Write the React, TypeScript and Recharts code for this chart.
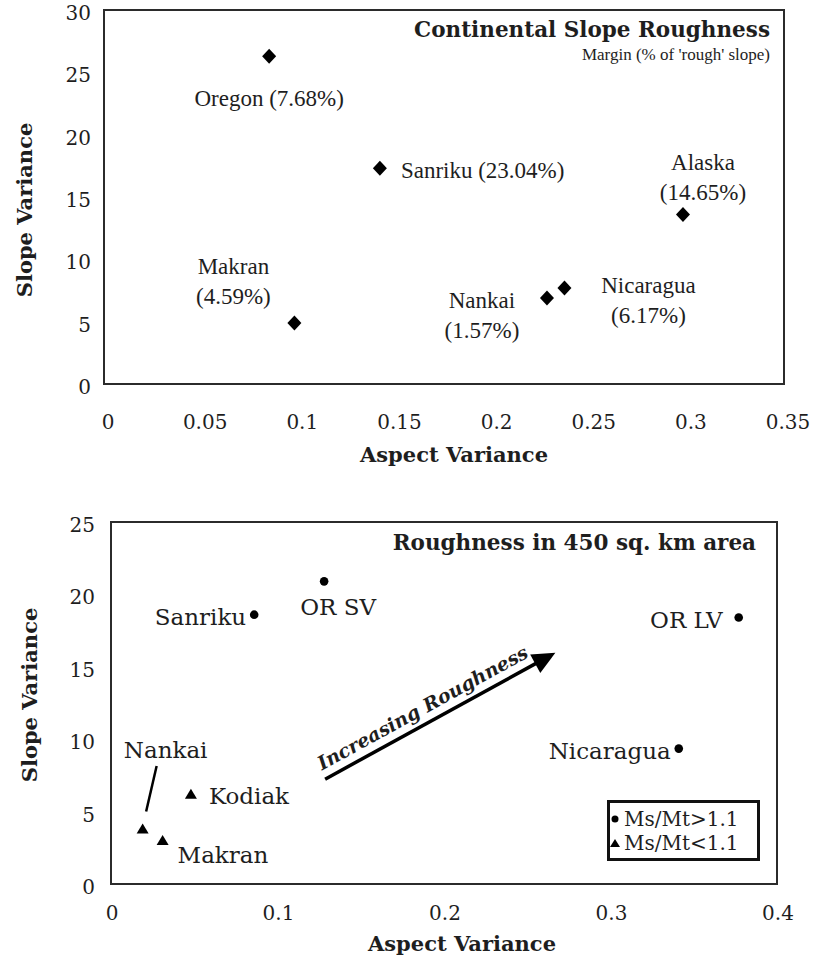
import React from 'react';
import { ScatterChart, Scatter, XAxis, YAxis, ReferenceArea, ReferenceLine, Legend } from 'recharts';

// ---------- Top chart data ----------
const topSites = ['Oregon', 'Sanriku', 'Alaska', 'Makran', 'Nankai', 'Nicaragua'];
const topAspect = [0.085, 0.142, 0.298, 0.098, 0.228, 0.237];
const topSlope = [26.3, 17.3, 13.6, 4.9, 6.9, 7.7];
const topMargin = [7.68, 23.04, 14.65, 4.59, 1.57, 6.17];
const topXTicks = [0, 0.05, 0.1, 0.15, 0.2, 0.25, 0.3, 0.35];
const topYTicks = [0, 5, 10, 15, 20, 25, 30];

// ---------- Bottom chart data ----------
const highSites = ['Sanriku', 'OR SV', 'OR LV', 'Nicaragua'];
const highAspect = [0.086, 0.128, 0.377, 0.341];
const highSlope = [18.6, 20.9, 18.4, 9.35];
const lowSites = ['Kodiak', 'Nankai', 'Makran'];
const lowAspect = [0.048, 0.019, 0.031];
const lowSlope = [6.2, 3.8, 3.0];
const botXTicks = [0, 0.1, 0.2, 0.3, 0.4];
const botYTicks = [0, 5, 10, 15, 20, 25];

const arrowFrom = [0.1286, 7.24];
const arrowTo = [0.2669, 15.97];

const topData = topSites.map((name, i) => ({ name, aspect: topAspect[i], slope: topSlope[i], margin: topMargin[i] }));
const highData = highSites.map((name, i) => ({ name, aspect: highAspect[i], slope: highSlope[i] }));
const lowData = lowSites.map((name, i) => ({ name, aspect: lowAspect[i], slope: lowSlope[i] }));

// ---------- label layout (pixel offsets from marks) ----------
const topLabelLayout: Record<string, { dx: number; dy: number; anchor: string; split: boolean }> = {
  Oregon: { dx: 0, dy: 42, anchor: 'middle', split: false },
  Sanriku: { dx: 21, dy: 2, anchor: 'start', split: false },
  Alaska: { dx: 20, dy: -52, anchor: 'middle', split: true },
  Makran: { dx: -61, dy: -56, anchor: 'middle', split: true },
  Nankai: { dx: -65, dy: 3, anchor: 'middle', split: true },
  Nicaragua: { dx: 84, dy: -3, anchor: 'middle', split: true },
};

const botLabelLayout: Record<string, { dx: number; dy: number; anchor: string; leader?: number[] }> = {
  Sanriku: { dx: -8, dy: 2, anchor: 'end' },
  'OR SV': { dx: 14, dy: 26, anchor: 'middle' },
  'OR LV': { dx: -16, dy: 2, anchor: 'end' },
  Nicaragua: { dx: -8, dy: 2, anchor: 'end' },
  Kodiak: { dx: 18, dy: 2, anchor: 'start' },
  Nankai: { dx: 23, dy: -79, anchor: 'middle', leader: [14, -63, 3.5, -17.5] },
  Makran: { dx: 15, dy: 14, anchor: 'start' },
};

const SERIF = '"DejaVu Serif", serif';
const NARROW = '"Liberation Serif", serif';
const INK = '#1e1e1e';

const fmt = (v: number) => String(v);

const makeXTick = (offY: number, dx: number) => (props: any) => {
  const { x, y, payload } = props;
  return (
    <text x={x + dx} y={y + offY} textAnchor="middle" dominantBaseline="central" fontFamily={SERIF} fontSize={20} fill={INK}>
      {fmt(payload.value)}
    </text>
  );
};

const makeYTick = (gap: number, offY: number) => (props: any) => {
  const { x, y, payload } = props;
  return (
    <text x={x - gap} y={y + offY} textAnchor="end" dominantBaseline="central" fontFamily={SERIF} fontSize={20} fill={INK}>
      {fmt(payload.value)}
    </text>
  );
};

const diamondShape = (props: any) => {
  const { cx, cy } = props;
  const p = props.payload || props;
  const lay = topLabelLayout[p.name];
  const lines = lay.split ? [p.name, `(${p.margin}%)`] : [`${p.name} (${p.margin}%)`];
  return (
    <g>
      <polygon points={`${cx},${cy - 7.5} ${cx + 7},${cy} ${cx},${cy + 7.5} ${cx - 7},${cy}`} fill="#000" />
      {lines.map((t, i) => (
        <text key={i} x={cx + lay.dx} y={cy + lay.dy + i * 30} textAnchor={lay.anchor as any} dominantBaseline="central"
          fontFamily={NARROW} fontSize={23} fill={INK}>
          {t}
        </text>
      ))}
    </g>
  );
};

const botLabel = (cx: number, cy: number, name: string) => {
  const lay = botLabelLayout[name];
  return (
    <g>
      <text x={cx + lay.dx} y={cy + lay.dy} textAnchor={lay.anchor as any} dominantBaseline="central"
        fontFamily={SERIF} fontSize={23} fill={INK}>
        {name}
      </text>
      {lay.leader && (
        <line x1={cx + lay.leader[0]} y1={cy + lay.leader[1]} x2={cx + lay.leader[2]} y2={cy + lay.leader[3]} stroke="#000" strokeWidth={2.5} />
      )}
    </g>
  );
};

const dotShape = (props: any) => {
  const { cx, cy } = props;
  const p = props.payload || props;
  return (
    <g>
      <circle cx={cx} cy={cy} r={4.3} fill="#000" />
      {botLabel(cx, cy, p.name)}
    </g>
  );
};

const triShape = (props: any) => {
  const { cx, cy } = props;
  const p = props.payload || props;
  return (
    <g>
      <polygon points={`${cx},${cy - 5.5} ${cx + 6},${cy + 4.5} ${cx - 6},${cy + 4.5}`} fill="#000" />
      {botLabel(cx, cy, p.name)}
    </g>
  );
};

const arrowShape = (props: any) => {
  const { x1, y1, x2, y2 } = props;
  const L = Math.hypot(x2 - x1, y2 - y1);
  const ux = (x2 - x1) / L;
  const uy = (y2 - y1) / L;
  const nx = uy;
  const ny = -ux;
  const headL = 23;
  const headW = 10.5;
  const bx = x2 - ux * headL;
  const by = y2 - uy * headL;
  const sx = x2 - ux * (headL - 4);
  const sy = y2 - uy * (headL - 4);
  const midAlong = (L - headL) / 2;
  const tx = x1 + ux * midAlong + nx * 16;
  const ty = y1 + uy * midAlong + ny * 16;
  const ang = (Math.atan2(uy, ux) * 180) / Math.PI;
  return (
    <g>
      <line x1={x1} y1={y1} x2={sx} y2={sy} stroke="#000" strokeWidth={3.5} />
      <polygon points={`${x2},${y2} ${bx + nx * headW},${by + ny * headW} ${bx - nx * headW},${by - ny * headW}`} fill="#000" />
      <text x={tx} y={ty} transform={`rotate(${ang} ${tx} ${ty})`} textAnchor="middle" dominantBaseline="central"
        fontFamily={SERIF} fontWeight="bold" fontStyle="italic" fontSize={19} fill={INK}>
        Increasing Roughness
      </text>
    </g>
  );
};

const axisTitle = (x: number, y: number, text: string, vertical: boolean) => () => (
  <text x={x} y={y} textAnchor="middle" dominantBaseline="central" fontFamily={SERIF} fontWeight="bold" fontSize={21} fill={INK}
    transform={vertical ? `rotate(-90 ${x} ${y})` : undefined}>
    {text}
  </text>
);

const renderLegend = (props: any) => {
  const payload = [...(props.payload || [])].sort((a: any, b: any) => (a.type === 'triangle' ? 1 : 0) - (b.type === 'triangle' ? 1 : 0));
  return (
    <div style={{ border: '3px solid #111', boxSizing: 'border-box', width: 153, height: 61, paddingTop: 4, background: '#fff',
      fontFamily: SERIF, fontSize: 20, lineHeight: '24px', color: INK }}>
      {payload.map((e: any, i: number) => (
        <div key={i} style={{ display: 'flex', alignItems: 'center', whiteSpace: 'nowrap', height: 24 }}>
          <svg width={14} height={24} style={{ display: 'block' }}>
            {e.type === 'triangle'
              ? <polygon points="5,8 10,16 0,16" fill="#000" />
              : <circle cx={5} cy={12} r={3.5} fill="#000" />}
          </svg>
          <span>{e.value}</span>
        </div>
      ))}
    </div>
  );
};

export default function App() {
  return (
    <div style={{ position: 'absolute', left: 0, top: 0, width: 815, height: 957, background: '#fff' }}>
      <div style={{ position: 'absolute', left: 0, top: 0 }}>
        <ScatterChart width={815} height={480} margin={{ top: 10, right: 31, bottom: 0, left: 0 }}>
          <XAxis type="number" dataKey="aspect" domain={[0, 0.35]} ticks={topXTicks} interval={0} tickLine={false} axisLine={false}
            tickSize={0} tickMargin={0} height={96} tick={makeXTick(38, 4)} label={axisTitle(454, 454, 'Aspect Variance', false)} />
          <YAxis type="number" dataKey="slope" domain={[0, 30]} ticks={topYTicks} interval={0} tickLine={false} axisLine={false}
            tickSize={0} tickMargin={0} width={104} tick={makeYTick(13, 3)} label={axisTitle(24, 210, 'Slope Variance', true)} />
          <ReferenceArea x1={0} x2={0.35} y1={0} y2={30} fill="none" fillOpacity={0} stroke="#2b2b2b" strokeWidth={2} ifOverflow="visible" />
          <Scatter data={topData} shape={diamondShape} isAnimationActive={false} />
        </ScatterChart>
      </div>
      <div style={{ position: 'absolute', left: 0, top: 480 }}>
        <ScatterChart width={815} height={477} margin={{ top: 42, right: 38, bottom: 0, left: 0 }}>
          <XAxis type="number" dataKey="aspect" domain={[0, 0.4]} ticks={botXTicks} interval={0} tickLine={false} axisLine={false}
            tickSize={0} tickMargin={0} height={73} tick={makeXTick(29, 1)} label={axisTitle(462, 463, 'Aspect Variance', false)} />
          <YAxis type="number" dataKey="slope" domain={[0, 25]} ticks={botYTicks} interval={0} tickLine={false} axisLine={false}
            tickSize={0} tickMargin={0} width={111} tick={makeYTick(16, 3)} label={axisTitle(29, 215, 'Slope Variance', true)} />
          <ReferenceArea x1={0} x2={0.4} y1={0} y2={25} fill="none" fillOpacity={0} stroke="#2b2b2b" strokeWidth={2} ifOverflow="visible" />
          <ReferenceLine segment={[{ x: arrowFrom[0], y: arrowFrom[1] }, { x: arrowTo[0], y: arrowTo[1] }]} shape={arrowShape} ifOverflow="visible" />
          <Scatter name="Ms/Mt>1.1" legendType="circle" data={highData} shape={dotShape} isAnimationActive={false} />
          <Scatter name="Ms/Mt<1.1" legendType="triangle" data={lowData} shape={triShape} isAnimationActive={false} />
          <Legend layout="vertical" align="center" verticalAlign="middle" content={renderLegend}
            wrapperStyle={{ position: 'absolute', left: 607, top: 320, width: 'auto', height: 'auto' }} />
        </ScatterChart>
      </div>
      <div style={{ position: 'absolute', right: 45, top: 17, fontFamily: SERIF, fontWeight: 'bold', fontSize: 21.5, lineHeight: '26px', whiteSpace: 'nowrap', color: INK }}>
        Continental Slope Roughness
      </div>
      <div style={{ position: 'absolute', right: 45, top: 45, fontFamily: NARROW, fontSize: 17, lineHeight: '20px', whiteSpace: 'nowrap', color: INK }}>
        Margin (% of 'rough' slope)
      </div>
      <div style={{ position: 'absolute', right: 59, top: 530, fontFamily: SERIF, fontWeight: 'bold', fontSize: 21.5, lineHeight: '26px', whiteSpace: 'nowrap', color: INK }}>
        Roughness in 450 sq. km area
      </div>
    </div>
  );
}
